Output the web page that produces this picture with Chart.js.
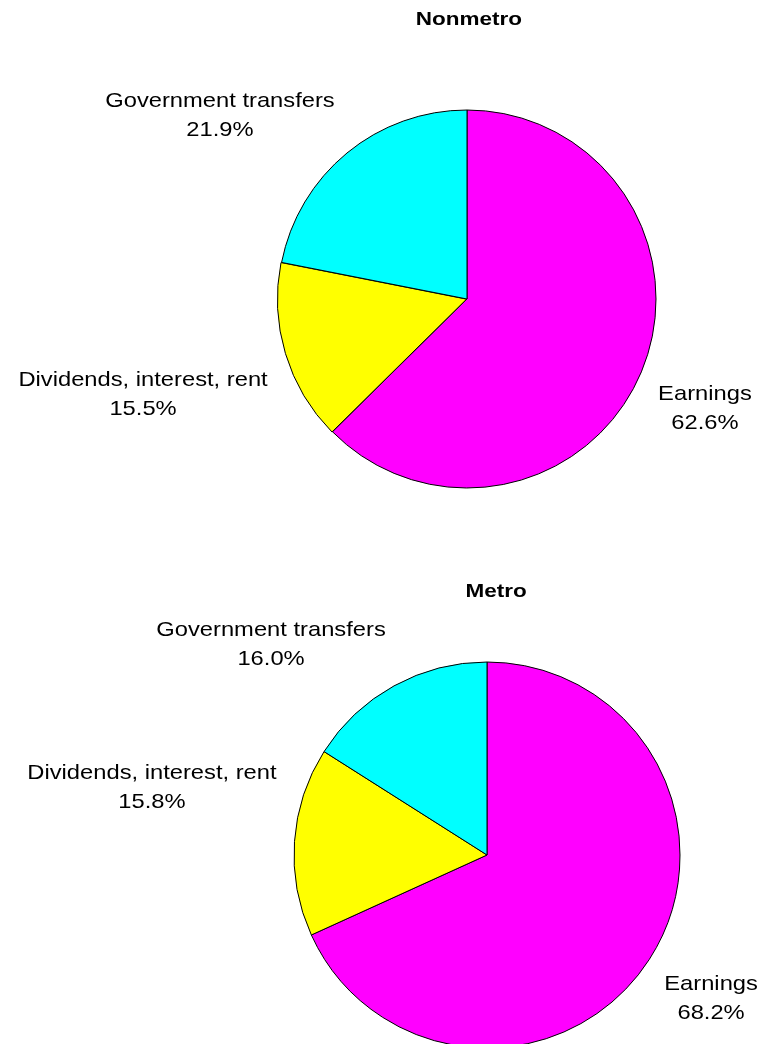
<!DOCTYPE html>
<html>
<head>
<meta charset="utf-8">
<script src="https://cdn.jsdelivr.net/npm/chart.js@4.4.1/dist/chart.umd.min.js"></script>
<style>
  html, body { margin: 0; padding: 0; background: #fff; overflow: hidden; }
  body { width: 762px; height: 1044px; position: relative; }
  canvas { position: absolute; left: 0; }
  #nonmetroChart { top: 0; }
  #metroChart { top: 560px; }
</style>
</head>
<body>
<canvas id="nonmetroChart" width="762" height="520"></canvas>
<canvas id="metroChart" width="762" height="500"></canvas>
<script>
// income sources, in clockwise order from 12 o'clock
const categories = ["Earnings", "Dividends, interest, rent", "Government transfers"];
const nonmetroShares = [62.6, 15.5, 21.9];
const metroShares = [68.2, 15.8, 16.0];
const sliceColors = ["#ff00ff", "#ffff00", "#00ffff"];

const FONT = "'Liberation Sans', Arial, Helvetica, sans-serif";

// draws the title and the two-line "name / percent" labels around the pie
const pieLabels = {
  id: "pieLabels",
  afterDraw(chart, args, opts) {
    const ctx = chart.ctx;
    const arcs = chart.getDatasetMeta(0).data;
    if (!arcs.length) return;
    const cx = arcs[0].x, cy = arcs[0].y, r = arcs[0].outerRadius;
    const values = chart.data.datasets[0].data;

    const stretched = (text, x, y, font, sx) => {
      ctx.save();
      ctx.translate(x, y);
      ctx.scale(sx, 1);
      ctx.font = font;
      ctx.fillText(text, 0, 0);
      ctx.restore();
    };

    ctx.save();
    ctx.fillStyle = "#000";
    ctx.textAlign = "center";
    ctx.textBaseline = "middle";

    stretched(opts.title, cx + opts.titleAt[0] * r, cy + opts.titleAt[1] * r,
      "bold 18px " + FONT, 1.25);

    chart.data.labels.forEach((name, i) => {
      const [fx, fy] = opts.at[i];
      const x = cx + fx * r, y = cy + fy * r;
      stretched(name, x, y - 14.5, "21px " + FONT, 1.13);
      stretched(values[i].toFixed(1) + "%", x, y + 14.5, "21px " + FONT, 1.13);
    });
    ctx.restore();
  }
};

function makePie(id, shares, radius, padding, offsets, title, titleAt, at) {
  return new Chart(document.getElementById(id), {
    type: "pie",
    data: {
      labels: categories,
      datasets: [{
        data: shares,
        backgroundColor: sliceColors,
        borderColor: "#000",
        borderWidth: 1,
        offset: offsets
      }]
    },
    options: {
      responsive: false,
      animation: false,
      radius: radius,
      layout: { padding: padding },
      plugins: {
        legend: { display: false },
        tooltip: { enabled: false },
        pieLabels: { title: title, titleAt: titleAt, at: at }
      }
    },
    plugins: [pieLabels]
  });
}

makePie("nonmetroChart", nonmetroShares, 189,
  { left: 278, right: 106, top: 110, bottom: 32 },
  [0, 2, 0], "Nonmetro", [0.01, -1.476],
  [[1.259, 0.579], [-1.714, 0.505], [-1.307, -0.971]]);

makePie("metroChart", metroShares, 193,
  { left: 294, right: 82, top: 102, bottom: 12 },
  [0, 0, 0], "Metro", [0.047, -1.363],
  [[1.161, 0.746], [-1.736, -0.35], [-1.119, -1.091]]);
</script>
</body>
</html>
